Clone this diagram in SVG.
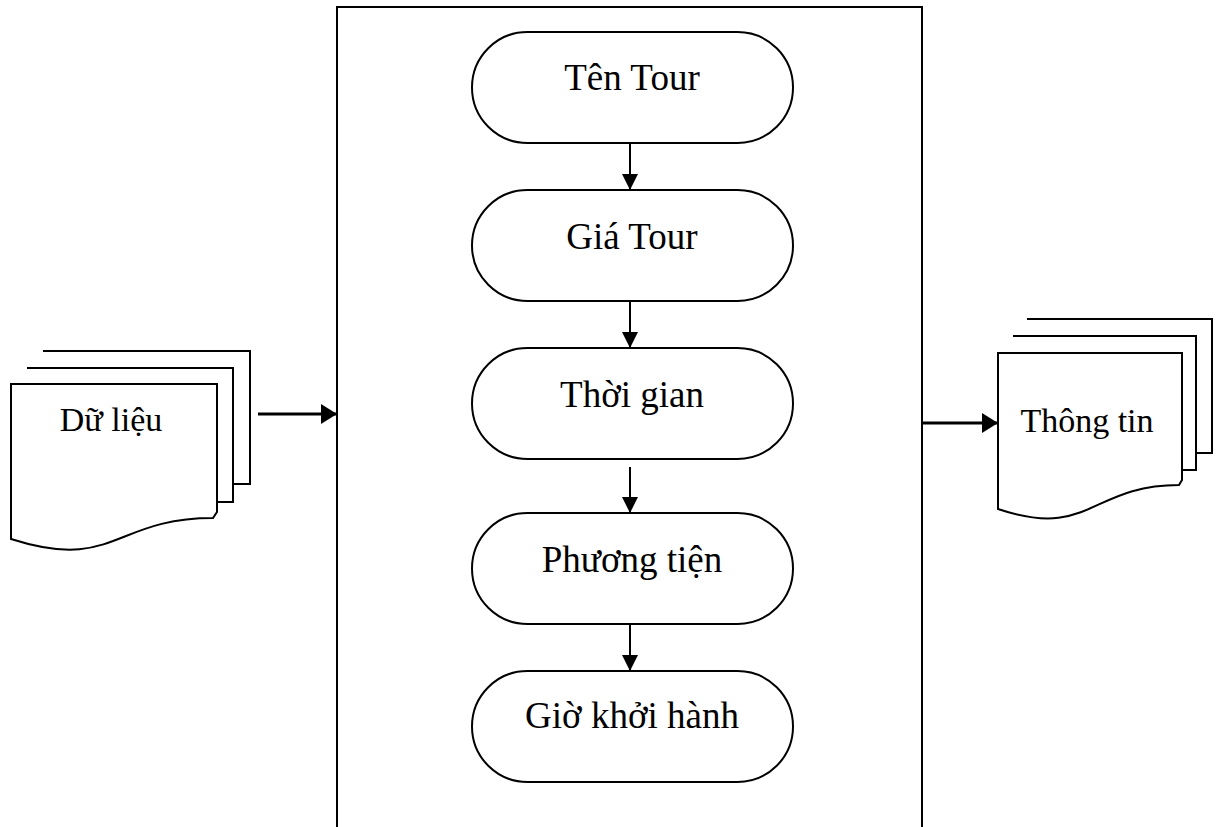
<svg xmlns="http://www.w3.org/2000/svg" width="1220" height="827" viewBox="0 0 1220 827">
  <defs>
    <marker id="headV" viewBox="0 0 16 16" refX="16" refY="8" markerWidth="16" markerHeight="16" markerUnits="userSpaceOnUse" orient="auto">
      <path d="M0,0 L16,8 L0,16 Z" fill="#000"/>
    </marker>
    <marker id="headH" viewBox="0 0 16 20" refX="16" refY="10" markerWidth="16" markerHeight="20" markerUnits="userSpaceOnUse" orient="auto">
      <path d="M0,0 L16,10 L0,20 Z" fill="#000"/>
    </marker>
  </defs>
  <style>
    .frame { fill: #fff; stroke: #000; stroke-width: 2; }
    .term { fill: #fff; stroke: #000; stroke-width: 2; }
    .sheet { fill: #fff; stroke: #000; stroke-width: 2; stroke-linejoin: miter; }
    .lbl { font-family: "Liberation Serif", "Times New Roman", serif; font-size: 37px; fill: #000; text-anchor: middle; }
    .doclbl { font-family: "Liberation Serif", "Times New Roman", serif; font-size: 34px; fill: #000; text-anchor: middle; }
    .flow { stroke: #000; stroke-width: 2; fill: none; marker-end: url(#headV); }
    .io { stroke: #000; stroke-width: 3; fill: none; marker-end: url(#headH); }
  </style>

  <rect width="1220" height="827" fill="#fff"/>

  <!-- processing frame (open at the bottom edge of the page) -->
  <g id="process-frame">
    <path class="frame" d="M337,830 V7 H922 V830"/>
  </g>

  <!-- input documents -->
  <g id="doc-input">
    <path class="sheet" d="M43,351 H250 V484 H233"/>
    <path class="sheet" d="M27,368 H233 V502 H217"/>
    <path class="sheet" d="M11,384 H217 V512 L213,518 C114,518 114,572 11,539 Z"/>
    <text class="doclbl" x="111" y="431">Dữ liệu</text>
  </g>

  <!-- output documents -->
  <g id="doc-output">
    <path class="sheet" d="M1027,319 H1212 V453 H1196"/>
    <path class="sheet" d="M1013,336 H1196 V470 H1182"/>
    <path class="sheet" d="M998,353 H1182 V480 L1179,485 C1090,485 1090,540 998,509 Z"/>
    <text class="doclbl" x="1087" y="432">Thông tin</text>
  </g>

  <!-- fields -->
  <g id="ten-tour">
    <rect class="term" x="472" y="32" width="321" height="111" rx="55.5" ry="55.5"/>
    <text class="lbl" x="632" y="90">Tên Tour</text>
  </g>
  <g id="gia-tour">
    <rect class="term" x="472" y="190" width="321" height="111" rx="55.5" ry="55.5"/>
    <text class="lbl" x="632" y="249">Giá Tour</text>
  </g>
  <g id="thoi-gian">
    <rect class="term" x="472" y="348" width="321" height="111" rx="55.5" ry="55.5"/>
    <text class="lbl" x="632" y="407">Thời gian</text>
  </g>
  <g id="phuong-tien">
    <rect class="term" x="472" y="513" width="321" height="111" rx="55.5" ry="55.5"/>
    <text class="lbl" x="632" y="572">Phương tiện</text>
  </g>
  <g id="gio-khoi-hanh">
    <rect class="term" x="472" y="671" width="321" height="111" rx="55.5" ry="55.5"/>
    <text class="lbl" x="632" y="728">Giờ khởi hành</text>
  </g>

  <!-- connectors -->
  <g id="connectors">
    <line class="flow" x1="630" y1="143" x2="630" y2="190"/>
    <line class="flow" x1="630" y1="301" x2="630" y2="348"/>
    <line class="flow" x1="630" y1="467" x2="630" y2="513"/>
    <line class="flow" x1="630" y1="624" x2="630" y2="671"/>
    <line class="io" x1="258" y1="414" x2="337" y2="414"/>
    <line class="io" x1="922" y1="423" x2="998" y2="423"/>
  </g>
</svg>
